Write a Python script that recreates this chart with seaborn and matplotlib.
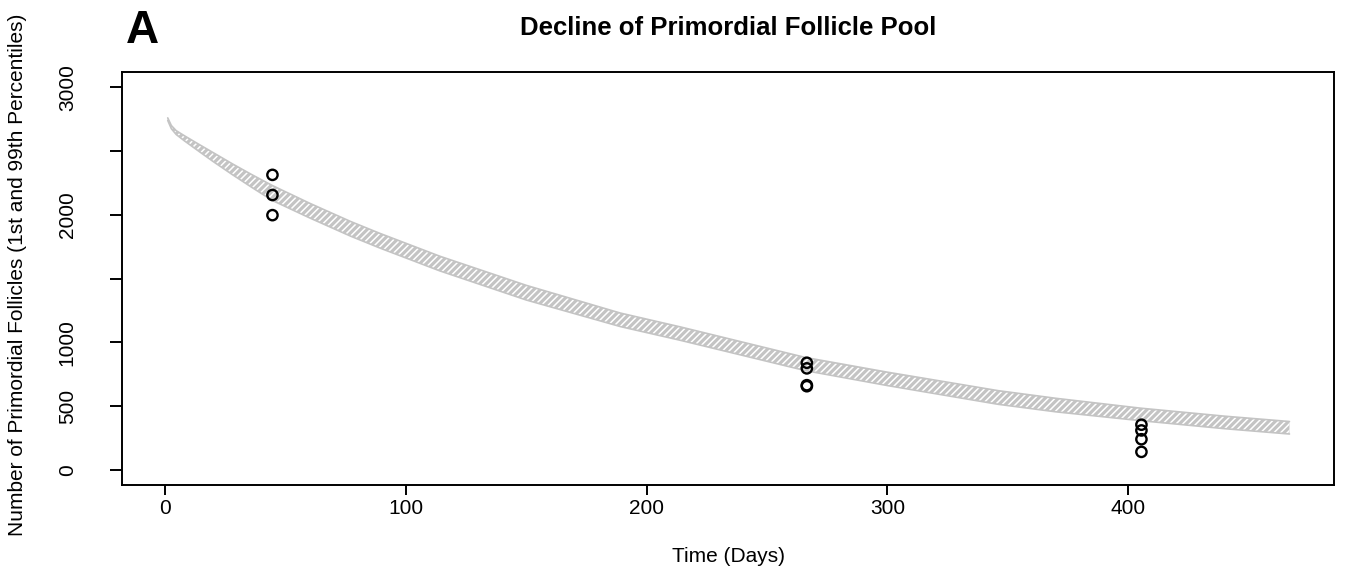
import matplotlib
matplotlib.use("Agg")
import matplotlib.pyplot as plt
import numpy as np
import pandas as pd
import seaborn as sns

# ---- data ----
band_days = [1, 2.5, 4.5, 8, 14, 20, 28, 36, 44.5, 60, 77, 89, 114, 150, 189, 214, 266, 300, 346, 370, 405, 440, 467]
band_upper = [2760, 2700, 2660, 2619, 2552, 2486, 2398, 2314, 2229, 2090, 1947, 1855, 1675, 1446, 1229, 1120, 880, 765, 620, 560, 483, 420, 378]
band_lower = [2740, 2675, 2630, 2579, 2497, 2416, 2313, 2214, 2112, 1975, 1832, 1740, 1560, 1331, 1123, 1015, 777, 660, 513, 454, 385, 322, 280]

obs_days = [44.5, 44.5, 44.5, 266.5, 266.5, 266.5, 266.5, 405.5, 405.5, 405.5, 405.5]
obs_counts = [2313, 2155, 1997, 839, 795, 663, 655, 353, 308, 239, 140]

x_ticks = [0, 100, 200, 300, 400]
y_ticks = [0, 500, 1000, 1500, 2000, 2500, 3000]
y_tick_labels = ["0", "500", "1000", "", "2000", "", "3000"]

title = "Decline of Primordial Follicle Pool"
panel = "A"
x_label = "Time (Days)"
y_label = "Number of Primordial Follicles (1st and 99th Percentiles)"

# ---- style ----
sns.set_theme(style="ticks")
plt.rcParams["font.family"] = ["Liberation Sans", "DejaVu Sans"]
plt.rcParams["hatch.linewidth"] = 1.1
plt.rcParams["text.color"] = "black"

W, H = 1345, 574
fig = plt.figure(figsize=(W / 100, H / 100), dpi=100)
ax = fig.add_axes([122 / W, 1 - 485 / H, (1334 - 122) / W, (485 - 72) / H])

band = pd.DataFrame({"day": band_days, "upper": band_upper, "lower": band_lower})
obs = pd.DataFrame({"day": obs_days, "count": obs_counts})

band_grey = "#c4c4c4"
ax.fill_between(band["day"], band["lower"], band["upper"], facecolor=band_grey,
                edgecolor="none", linewidth=0, zorder=1)
ax.fill_between(band["day"], band["lower"], band["upper"], facecolor="none",
                edgecolor="white", hatch="/////", linewidth=0, zorder=2)
sns.lineplot(data=band, x="day", y="upper", ax=ax, color=band_grey, linewidth=1.2, zorder=3)
sns.lineplot(data=band, x="day", y="lower", ax=ax, color=band_grey, linewidth=1.2, zorder=3)

sns.scatterplot(data=obs, x="day", y="count", ax=ax, marker="o", s=55,
                facecolor="none", edgecolor="black", linewidth=1.7, zorder=5)

ax.set_xlim(-18, 485.5)
ax.set_ylim(-120, 3120)
ax.set_xticks(x_ticks)
ax.set_xticklabels([str(v) for v in x_ticks])
ax.set_yticks(y_ticks)
ax.set_yticklabels(y_tick_labels, rotation=90, va="center")
ax.set_xlabel("")
ax.set_ylabel("")

for s in ax.spines.values():
    s.set_visible(True)
    s.set_linewidth(1.4)
    s.set_color("black")

ax.tick_params(axis="x", length=7, width=1.4, pad=3, labelsize=15, colors="black")
ax.tick_params(axis="y", length=8.5, width=1.4, pad=24, labelsize=15, colors="black")

fig.text(728 / W, 1 - 35 / H, title, ha="center", va="baseline",
         fontsize=18.5, fontweight="bold", color="black")
fig.text(126 / W, 1 - 43 / H, panel, ha="left", va="baseline",
         fontsize=33, fontweight="bold", color="black")
fig.text(728 / W, 1 - 556 / H, x_label, ha="center", va="center", fontsize=15, color="black")
fig.text(18 / W, 1 - 275 / H, y_label, ha="center", va="center", rotation=90,
         fontsize=15, color="black")

fig.savefig("out.png", dpi=100)
